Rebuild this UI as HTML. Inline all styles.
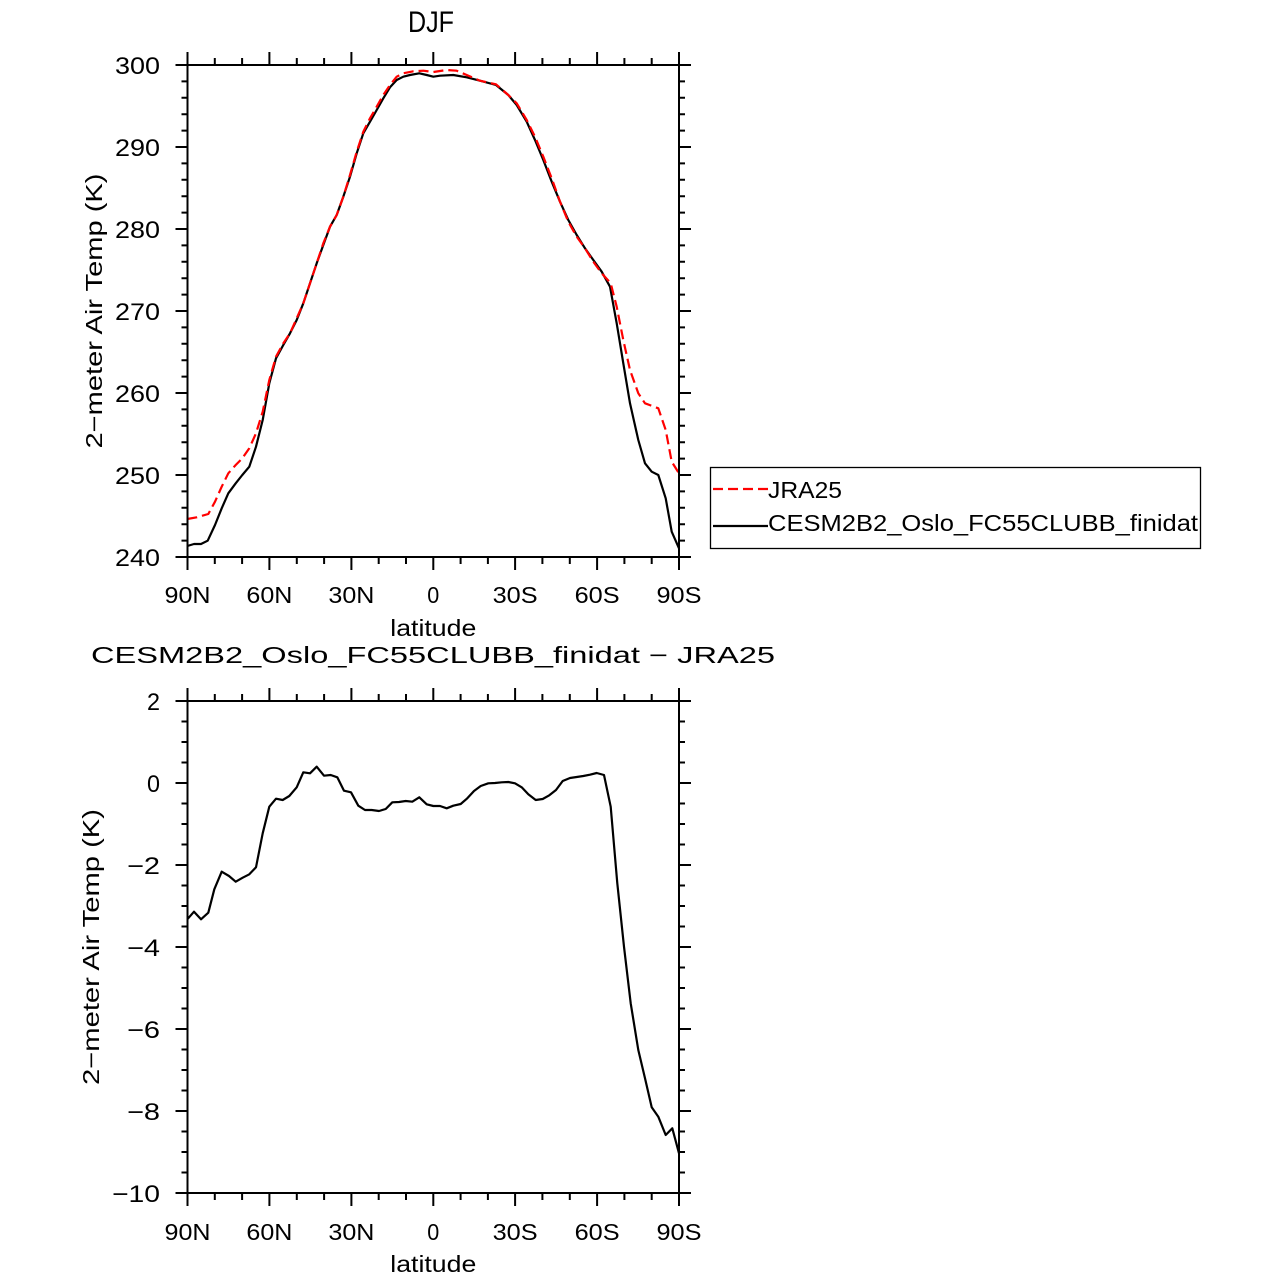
<!DOCTYPE html>
<html>
<head>
<meta charset="utf-8">
<style>
  html,body{margin:0;padding:0;background:#fff;}
  svg{display:block;}
  text{font-family:"Liberation Sans", "DejaVu Sans", sans-serif;fill:#000;}
</style>
</head>
<body>
<svg width="1281" height="1283" viewBox="0 0 1281 1283" xmlns="http://www.w3.org/2000/svg">
  <rect x="0" y="0" width="1281" height="1283" fill="#fff"/>

  <!-- ================= TOP PLOT ================= -->
  <text x="431" y="32" font-size="30" text-anchor="middle" textLength="46" lengthAdjust="spacingAndGlyphs">DJF</text>

  <!-- curves -->
  <polyline fill="none" stroke="#000" stroke-width="2.2" stroke-linejoin="round" points="187.3,546 194,544 201,544 207.7,540.7 215,525 221.7,508.3 228.3,493.3 235.7,483.3 242.3,475 249.3,466.7 256,446.7 262.7,420 269.3,383.3 276,358.3 283.3,345 290,333.3 296.7,320 303.3,303.3 310,283.3 316.7,263.3 323.3,245 330,226.7 336.7,215 343.3,196.7 350,176.7 356.7,153.3 363.3,133.3 370,121.7 376.7,110 383.3,98.3 390,87.3 396.7,80 403.3,76.7 410,75 419.3,73.3 426.7,75 433.3,76.7 440,75.7 453.3,75 466.7,77.3 480,80.7 496,85 508.3,95 516.7,105 526.7,121.7 535,140 543.3,160 551.7,181.7 560,201.7 568.3,220 576.7,235 585,248.3 593.3,260 601.7,271.7 610,286.7 616.7,323.3 623.3,363.3 630,403.3 638.3,440 645,463.3 651.7,471.7 658.3,475 665.7,498.3 671.7,531.7 679,548.3"/>
  <polyline fill="none" stroke="#ff0000" stroke-width="2.2" stroke-dasharray="10 5" stroke-linejoin="round" points="187.3,519 196.7,517.3 208.3,514 215,501.7 221.7,486.7 228.3,473.3 235.7,465 242.3,458.3 249.3,448.3 256,433.3 262.7,411.7 269.3,380 276,356.7 283.3,343.3 290,333.3 296.7,318.3 303.3,303.3 310,283.3 316.7,263.3 323.3,243.3 330,226.7 336.7,215 343.3,196.7 350,175 356.7,151.7 363.3,131.7 370,118.3 376.7,106.7 383.3,95 390,85 396.7,76.7 403.3,73.3 413.3,71.3 423.3,70.7 433.3,72 446.7,70 456.7,70.7 466.7,75 480,80.7 496,84.3 508.3,95 516.7,103.3 526.7,120 535,136.7 543.3,156.7 551.7,178.3 560,201.7 568.3,221.7 576.7,236.7 585,248.3 593.3,261.7 601.7,273.3 610.7,283.3 616.7,306.7 623.3,340 630,370 638.3,393.3 645,403.3 658.3,408.3 665.7,430 671.7,461.7 679,473.3"/>

  <!-- frame -->
  <rect x="187.5" y="65" width="491.5" height="492" fill="none" stroke="#000" stroke-width="2"/>

  <!-- x ticks top plot -->
  <path stroke="#000" stroke-width="2" fill="none" d="
    M187.5 557v13 M269.4 557v13 M351.4 557v13 M433.3 557v13 M515.1 557v13 M597.1 557v13 M679 557v13
    M214.8 557v7 M242.1 557v7 M296.8 557v7 M324.1 557v7 M378.7 557v7 M406 557v7 M460.6 557v7 M487.9 557v7 M542.4 557v7 M569.8 557v7 M624.4 557v7 M651.7 557v7
    M187.5 65v-13 M269.4 65v-13 M351.4 65v-13 M433.3 65v-13 M515.1 65v-13 M597.1 65v-13 M679 65v-13
    M214.8 65v-7 M242.1 65v-7 M296.8 65v-7 M324.1 65v-7 M378.7 65v-7 M406 65v-7 M460.6 65v-7 M487.9 65v-7 M542.4 65v-7 M569.8 65v-7 M624.4 65v-7 M651.7 65v-7
  "/>
  <!-- y ticks top plot -->
  <path stroke="#000" stroke-width="2" fill="none" d="
    M187.5 65h-12 M187.5 147h-12 M187.5 229h-12 M187.5 311h-12 M187.5 393h-12 M187.5 475h-12 M187.5 557h-12
    M679 65h12 M679 147h12 M679 229h12 M679 311h12 M679 393h12 M679 475h12 M679 557h12
    M187.5 81.4h-6 M187.5 97.8h-6 M187.5 114.2h-6 M187.5 130.6h-6
    M187.5 163.4h-6 M187.5 179.8h-6 M187.5 196.2h-6 M187.5 212.6h-6
    M187.5 245.4h-6 M187.5 261.8h-6 M187.5 278.2h-6 M187.5 294.6h-6
    M187.5 327.4h-6 M187.5 343.8h-6 M187.5 360.2h-6 M187.5 376.6h-6
    M187.5 409.4h-6 M187.5 425.8h-6 M187.5 442.2h-6 M187.5 458.6h-6
    M187.5 491.4h-6 M187.5 507.8h-6 M187.5 524.2h-6 M187.5 540.6h-6
    M679 81.4h6 M679 97.8h6 M679 114.2h6 M679 130.6h6
    M679 163.4h6 M679 179.8h6 M679 196.2h6 M679 212.6h6
    M679 245.4h6 M679 261.8h6 M679 278.2h6 M679 294.6h6
    M679 327.4h6 M679 343.8h6 M679 360.2h6 M679 376.6h6
    M679 409.4h6 M679 425.8h6 M679 442.2h6 M679 458.6h6
    M679 491.4h6 M679 507.8h6 M679 524.2h6 M679 540.6h6
  "/>

  <!-- y labels top -->
  <g font-size="24" text-anchor="end">
    <text x="160" y="74" textLength="45" lengthAdjust="spacingAndGlyphs">300</text>
    <text x="160" y="156" textLength="45" lengthAdjust="spacingAndGlyphs">290</text>
    <text x="160" y="238" textLength="45" lengthAdjust="spacingAndGlyphs">280</text>
    <text x="160" y="320" textLength="45" lengthAdjust="spacingAndGlyphs">270</text>
    <text x="160" y="402" textLength="45" lengthAdjust="spacingAndGlyphs">260</text>
    <text x="160" y="484" textLength="45" lengthAdjust="spacingAndGlyphs">250</text>
    <text x="160" y="566" textLength="45" lengthAdjust="spacingAndGlyphs">240</text>
  </g>
  <!-- x labels top -->
  <g font-size="23" text-anchor="middle">
    <text x="187.5" y="603" textLength="46" lengthAdjust="spacingAndGlyphs">90N</text>
    <text x="269.4" y="603" textLength="46" lengthAdjust="spacingAndGlyphs">60N</text>
    <text x="351.4" y="603" textLength="46" lengthAdjust="spacingAndGlyphs">30N</text>
    <text x="433.3" y="603" textLength="12" lengthAdjust="spacingAndGlyphs">0</text>
    <text x="515.1" y="603" textLength="45" lengthAdjust="spacingAndGlyphs">30S</text>
    <text x="597.1" y="603" textLength="45" lengthAdjust="spacingAndGlyphs">60S</text>
    <text x="679" y="603" textLength="45" lengthAdjust="spacingAndGlyphs">90S</text>
  </g>
  <text x="433.3" y="636" font-size="23" text-anchor="middle" textLength="86" lengthAdjust="spacingAndGlyphs">latitude</text>
  <text transform="translate(102,311) rotate(-90)" x="0" y="0" font-size="23" text-anchor="middle" textLength="275" lengthAdjust="spacingAndGlyphs">2−meter Air Temp (K)</text>

  <!-- legend -->
  <rect x="710.5" y="467.5" width="490" height="81" fill="none" stroke="#000" stroke-width="1.3"/>
  <path d="M713 489H768" stroke="#ff0000" stroke-width="2.2" stroke-dasharray="10 5" fill="none"/>
  <path d="M713 526H768" stroke="#000" stroke-width="2.2" fill="none"/>
  <text x="768" y="498" font-size="23" textLength="74" lengthAdjust="spacingAndGlyphs">JRA25</text>
  <text x="768" y="531" font-size="23" textLength="430" lengthAdjust="spacingAndGlyphs">CESM2B2_Oslo_FC55CLUBB_finidat</text>

  <!-- ================= BOTTOM PLOT ================= -->
  <text x="433" y="663" font-size="23" text-anchor="middle" textLength="684" lengthAdjust="spacingAndGlyphs">CESM2B2_Oslo_FC55CLUBB_finidat − JRA25</text>

  <polyline fill="none" stroke="#000" stroke-width="2.2" stroke-linejoin="round" points="187.3,919.3 194,911.7 201,919.3 208.3,912.7 214.3,889.3 221.7,871.7 229,876 235.7,881.7 242.7,877.7 249.3,874.3 256,867.3 262.7,833.3 269.3,806.7 276,798.7 282.7,800 289.3,796 296.7,787.3 303.3,772.3 310,773.3 316.7,766.7 324,775.7 330.7,775 337.3,777.3 344,790.7 351,792.3 358.3,805.7 365,810 371.7,810 379,811 385.7,809 392.3,802.3 399,802 405.7,801 412.3,801.7 419.3,797.3 426.7,804.3 433.3,806 440,806 446.7,808.3 453.3,805.7 460.7,804 467.3,798.3 474,791 480.7,786 488.3,783.3 495,783 501.7,782.3 508.3,782 515,783.3 521.7,787.3 528.3,794.3 535.7,800 542.7,799 549.3,795.3 556,790 562.7,781 570,778 576.7,777 583.3,776 590,774.7 596.7,773 604,775 610.7,806.7 617.3,883.3 624,946.7 630.7,1003.3 638.3,1050 645,1078.3 651.7,1107.3 658.3,1116.7 665.7,1135 672.3,1128.3 679,1153.3"/>

  <rect x="187.5" y="701" width="491.5" height="492" fill="none" stroke="#000" stroke-width="2"/>

  <!-- x ticks bottom plot -->
  <path stroke="#000" stroke-width="2" fill="none" d="
    M187.5 1193v13 M269.4 1193v13 M351.4 1193v13 M433.3 1193v13 M515.1 1193v13 M597.1 1193v13 M679 1193v13
    M214.8 1193v7 M242.1 1193v7 M296.8 1193v7 M324.1 1193v7 M378.7 1193v7 M406 1193v7 M460.6 1193v7 M487.9 1193v7 M542.4 1193v7 M569.8 1193v7 M624.4 1193v7 M651.7 1193v7
    M187.5 701v-13 M269.4 701v-13 M351.4 701v-13 M433.3 701v-13 M515.1 701v-13 M597.1 701v-13 M679 701v-13
    M214.8 701v-7 M242.1 701v-7 M296.8 701v-7 M324.1 701v-7 M378.7 701v-7 M406 701v-7 M460.6 701v-7 M487.9 701v-7 M542.4 701v-7 M569.8 701v-7 M624.4 701v-7 M651.7 701v-7
  "/>
  <!-- y ticks bottom plot -->
  <path stroke="#000" stroke-width="2" fill="none" d="
    M187.5 701h-12 M187.5 783h-12 M187.5 865h-12 M187.5 947h-12 M187.5 1029h-12 M187.5 1111h-12 M187.5 1193h-12
    M679 701h12 M679 783h12 M679 865h12 M679 947h12 M679 1029h12 M679 1111h12 M679 1193h12
    M187.5 721.5h-6 M187.5 742h-6 M187.5 762.5h-6
    M187.5 803.5h-6 M187.5 824h-6 M187.5 844.5h-6
    M187.5 885.5h-6 M187.5 906h-6 M187.5 926.5h-6
    M187.5 967.5h-6 M187.5 988h-6 M187.5 1008.5h-6
    M187.5 1049.5h-6 M187.5 1070h-6 M187.5 1090.5h-6
    M187.5 1131.5h-6 M187.5 1152h-6 M187.5 1172.5h-6
    M679 721.5h6 M679 742h6 M679 762.5h6
    M679 803.5h6 M679 824h6 M679 844.5h6
    M679 885.5h6 M679 906h6 M679 926.5h6
    M679 967.5h6 M679 988h6 M679 1008.5h6
    M679 1049.5h6 M679 1070h6 M679 1090.5h6
    M679 1131.5h6 M679 1152h6 M679 1172.5h6
  "/>

  <!-- y labels bottom -->
  <g font-size="24" text-anchor="end">
    <text x="160" y="710" textLength="13" lengthAdjust="spacingAndGlyphs">2</text>
    <text x="160" y="792" textLength="13" lengthAdjust="spacingAndGlyphs">0</text>
    <text x="160" y="874" textLength="33" lengthAdjust="spacingAndGlyphs">−2</text>
    <text x="160" y="956" textLength="33" lengthAdjust="spacingAndGlyphs">−4</text>
    <text x="160" y="1038" textLength="33" lengthAdjust="spacingAndGlyphs">−6</text>
    <text x="160" y="1120" textLength="33" lengthAdjust="spacingAndGlyphs">−8</text>
    <text x="160" y="1202" textLength="48" lengthAdjust="spacingAndGlyphs">−10</text>
  </g>
  <!-- x labels bottom -->
  <g font-size="23" text-anchor="middle">
    <text x="187.5" y="1240" textLength="46" lengthAdjust="spacingAndGlyphs">90N</text>
    <text x="269.4" y="1240" textLength="46" lengthAdjust="spacingAndGlyphs">60N</text>
    <text x="351.4" y="1240" textLength="46" lengthAdjust="spacingAndGlyphs">30N</text>
    <text x="433.3" y="1240" textLength="12" lengthAdjust="spacingAndGlyphs">0</text>
    <text x="515.1" y="1240" textLength="45" lengthAdjust="spacingAndGlyphs">30S</text>
    <text x="597.1" y="1240" textLength="45" lengthAdjust="spacingAndGlyphs">60S</text>
    <text x="679" y="1240" textLength="45" lengthAdjust="spacingAndGlyphs">90S</text>
  </g>
  <text x="433.3" y="1272" font-size="23" text-anchor="middle" textLength="86" lengthAdjust="spacingAndGlyphs">latitude</text>
  <text transform="translate(99,947) rotate(-90)" x="0" y="0" font-size="23" text-anchor="middle" textLength="276" lengthAdjust="spacingAndGlyphs">2−meter Air Temp (K)</text>
</svg>
</body>
</html>
